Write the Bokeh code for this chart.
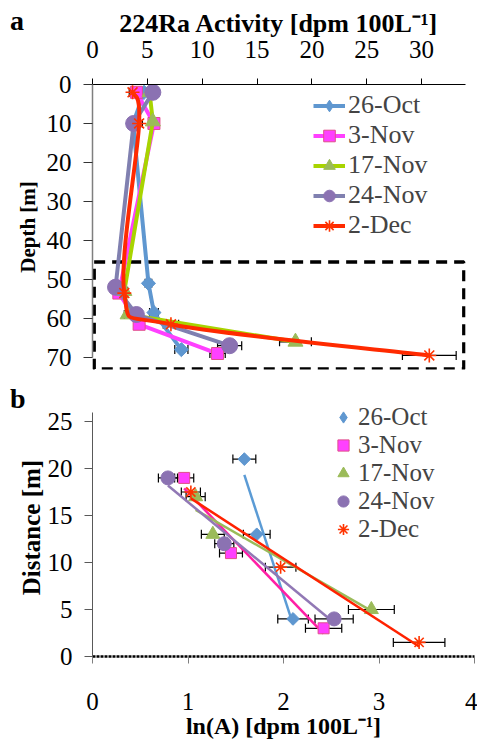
import numpy as np
from bokeh.plotting import figure
from bokeh.layouts import column
from bokeh.models import (ColumnDataSource, Whisker, TeeHead, Legend, LegendItem,
                          FixedTicker, Range1d, Div)
from bokeh.embed import file_html
from bokeh.resources import INLINE

FONT = "Liberation Serif"

series = ["26-Oct", "3-Nov", "17-Nov", "24-Nov", "2-Dec"]

# ---- Panel a: 224Ra activity [dpm 100L-1] versus depth [m]
a_act_26oct = [4.7, 3.7, 5.1, 5.6, 8.1]
a_dep_26oct = [2, 10, 51, 58.5, 68]
a_err_26oct = [0.3, 0.3, 0.3, 0.4, 0.6]

a_act_3nov = [4.0, 5.6, 2.4, 4.25, 11.4]
a_dep_3nov = [2, 10, 53.5, 61.5, 69]
a_err_3nov = [0.3, 0.3, 0.3, 0.4, 0.7]

a_act_17nov = [5.2, 5.5, 2.9, 3.2, 18.5]
a_dep_17nov = [2, 9.5, 53, 59, 66]
a_err_17nov = [0.3, 0.3, 0.3, 0.3, 1.45]

a_act_24nov = [5.5, 3.75, 2.1, 4.0, 12.5]
a_dep_24nov = [2, 10, 52, 59, 67]
a_err_24nov = [0.3, 0.3, 0.3, 0.3, 1.1]

a_act_2dec = [3.65, 4.25, 2.9, 7.15, 30.7]
a_dep_2dec = [2, 10, 53.5, 61.5, 69.5]
a_err_2dec = [0.3, 0.3, 0.3, 0.7, 2.45]

a_xticks = [0, 5, 10, 15, 20, 25, 30]
a_yticks = [0, 10, 20, 30, 40, 50, 60, 70]

# ---- Panel b: ln(A) versus distance [m]
b_lna_26oct = [1.59, 1.72, 2.10]
b_dist_26oct = [21, 13, 4]
b_err_26oct = [0.12, 0.14, 0.16]

b_lna_3nov = [0.96, 1.45, 2.42]
b_dist_3nov = [19, 11, 3]
b_err_3nov = [0.1, 0.12, 0.19]

b_lna_17nov = [1.08, 1.26, 2.92]
b_dist_17nov = [17, 13, 5]
b_err_17nov = [0.1, 0.12, 0.24]

b_lna_24nov = [0.79, 1.38, 2.53]
b_dist_24nov = [19, 12, 4]
b_err_24nov = [0.1, 0.1, 0.2]

b_lna_2dec = [1.03, 1.97, 3.42]
b_dist_2dec = [17.5, 9.5, 1.5]
b_err_2dec = [0.1, 0.16, 0.27]

b_xticks = [0, 1, 2, 3, 4]
b_yticks = [0, 5, 10, 15, 20, 25]

# dashed box marking the bottom layer in panel a
box_left, box_right, box_top, box_bottom = 0.15, 33.85, 45.5, 73.0

a_data = [
    (a_act_26oct, a_dep_26oct, a_err_26oct),
    (a_act_3nov, a_dep_3nov, a_err_3nov),
    (a_act_17nov, a_dep_17nov, a_err_17nov),
    (a_act_24nov, a_dep_24nov, a_err_24nov),
    (a_act_2dec, a_dep_2dec, a_err_2dec),
]
b_data = [
    (b_lna_26oct, b_dist_26oct, b_err_26oct),
    (b_lna_3nov, b_dist_3nov, b_err_3nov),
    (b_lna_17nov, b_dist_17nov, b_err_17nov),
    (b_lna_24nov, b_dist_24nov, b_err_24nov),
    (b_lna_2dec, b_dist_2dec, b_err_2dec),
]

# styles (legend marker may differ from the plotted one: rotated square -> diamond)
styles = [
    dict(marker="square", angle=np.pi / 4, size=10, fill="#5F97D0", line="#5F97D0",
         la="#5F97D0", lb="#5B9BD5", smooth=False, legend_marker="diamond"),
    dict(marker="square", angle=0.0, size=12, fill="#FF40FF", line="#E0508A",
         la="#FF40FF", lb="#FF1FA5", smooth=False, legend_marker=None),
    dict(marker="triangle", angle=0.0, size=15, fill="#9BBB59", line="#9BBB59",
         la="#A8D400", lb="#9BBB59", smooth=False, legend_marker=None),
    dict(marker="circle", angle=0.0, size=16, fill="#8B72B2", line="#8B72B2",
         la="#8080B0", lb="#9178B5", smooth=False, legend_marker=None),
    dict(marker="asterisk", angle=0.0, size=14, fill=None, line="#FF3300",
         la="#FF2A00", lb="#FF2200", smooth=True, legend_marker=None),
]


def smooth_segments(xs, ys):
    """Bezier control points (Catmull-Rom style, like a smoothed spreadsheet line)."""
    xs = np.asarray(xs, float)
    ys = np.asarray(ys, float)
    n = len(xs)
    out = dict(x0=[], y0=[], x1=[], y1=[], cx0=[], cy0=[], cx1=[], cy1=[])
    for i in range(n - 1):
        i0 = max(i - 1, 0)
        i3 = min(i + 2, n - 1)
        out["x0"].append(xs[i]); out["y0"].append(ys[i])
        out["x1"].append(xs[i + 1]); out["y1"].append(ys[i + 1])
        out["cx0"].append(xs[i] + (xs[i + 1] - xs[i0]) / 6.0)
        out["cy0"].append(ys[i] + (ys[i + 1] - ys[i0]) / 6.0)
        out["cx1"].append(xs[i + 1] - (xs[i3] - xs[i]) / 6.0)
        out["cy1"].append(ys[i + 1] - (ys[i3] - ys[i]) / 6.0)
    return out


def style_axis(ax, size="25px"):
    ax.major_label_text_font = FONT
    ax.major_label_text_font_size = size
    ax.major_label_text_color = "black"
    ax.axis_label_text_font = FONT
    ax.axis_label_text_font_style = "bold"
    ax.axis_label_text_color = "black"
    ax.minor_tick_line_color = None


def add_errorbars(p, base, center, err):
    src = ColumnDataSource(dict(y=base, lo=center - err, hi=center + err))
    w = Whisker(source=src, base="y", lower="lo", upper="hi", dimension="width",
                line_color="black", line_width=1.2,
                lower_head=TeeHead(size=9, line_color="black", line_width=1.2),
                upper_head=TeeHead(size=9, line_color="black", line_width=1.2))
    p.add_layout(w)


def legend_marker(p, st, main):
    """Renderer used for the legend swatch (the legend does not rotate markers)."""
    if st["legend_marker"] is None:
        return main
    return p.scatter(x=[np.nan], y=[np.nan], marker=st["legend_marker"],
                     fill_color=st["fill"], line_color=st["line"], size=st["size"])


# ================= Panel a =================
p1 = figure(frame_width=373, frame_height=285,
            x_range=Range1d(0, 34), y_range=Range1d(73.1, 0),
            x_axis_location="above",
            min_border_left=92, min_border_right=12, min_border_top=84, min_border_bottom=11,
            output_backend="svg", toolbar_location=None)
p1.outline_line_color = None
p1.grid.visible = False
p1.background_fill_color = "white"

xa = p1.xaxis[0]
style_axis(xa)
xa.ticker = FixedTicker(ticks=a_xticks)
xa.bounds = (0, 34)
xa.axis_label = "224Ra Activity [dpm 100L\u207b\u00b9]"
xa.axis_label_text_font_size = "26px"
xa.axis_line_color = "black"
xa.major_tick_line_color = "black"
xa.major_tick_in = 0
xa.major_tick_out = 6
xa.major_label_standoff = 21
xa.axis_label_standoff = 0

ya = p1.yaxis[0]
style_axis(ya)
ya.ticker = FixedTicker(ticks=a_yticks)
ya.bounds = (0, 70)
ya.axis_label = "Depth [m]"
ya.axis_label_text_font_size = "21px"
ya.axis_line_color = "#7F7F7F"
ya.axis_line_width = 1.5
ya.major_tick_line_color = "#333333"
ya.major_tick_in = 0
ya.major_tick_out = 9
ya.major_label_standoff = 12
ya.axis_label_standoff = 4

p1.quad(left=[box_left], right=[box_right], top=[box_top], bottom=[box_bottom],
        fill_color=None, line_color="black", line_width=3.5, line_dash="11 7")

leg_a = []
for name, (act, dep, err), st in zip(series, a_data, styles):
    act = np.asarray(act, float); dep = np.asarray(dep, float); err = np.asarray(err, float)
    if st["smooth"]:
        lr = p1.bezier(x0="x0", y0="y0", x1="x1", y1="y1", cx0="cx0", cy0="cy0",
                       cx1="cx1", cy1="cy1", source=ColumnDataSource(smooth_segments(act, dep)),
                       line_color=st["la"], line_width=4)
    else:
        lr = p1.line(x=act, y=dep, line_color=st["la"], line_width=4)
    add_errorbars(p1, dep, act, err)
    sc = p1.scatter(x=act, y=dep, marker=st["marker"], angle=st["angle"], size=st["size"],
                    fill_color=st["fill"], line_color=st["line"],
                    line_width=1.6 if st["marker"] == "asterisk" else 1)
    leg_a.append(LegendItem(label=name, renderers=[lr, legend_marker(p1, st, sc)]))

legend_a = Legend(items=leg_a, location=(221, 129), label_text_font=FONT,
                  label_text_font_size="26px", background_fill_alpha=0,
                  border_line_color=None, padding=0, margin=0, spacing=0,
                  label_standoff=3, glyph_width=32, glyph_height=29, label_height=26)
p1.add_layout(legend_a)

# ================= Panel b =================
p2 = figure(frame_width=382, frame_height=258,
            x_range=Range1d(0, 4), y_range=Range1d(0, 27.45),
            min_border_left=88, min_border_right=7, min_border_top=18, min_border_bottom=84,
            output_backend="svg", toolbar_location=None)
p2.outline_line_color = None
p2.grid.visible = False
p2.background_fill_color = "white"

xb = p2.xaxis[0]
style_axis(xb)
xb.ticker = FixedTicker(ticks=b_xticks)
xb.axis_label = "ln(A) [dpm 100L\u207b\u00b9]"
xb.axis_label_text_font_size = "24px"
xb.axis_line_color = "black"
xb.axis_line_width = 2.5
xb.axis_line_dash = "3 1"
xb.major_tick_line_color = "#7F7F7F"
xb.major_tick_in = 0
xb.major_tick_out = 7
xb.major_label_standoff = 29
xb.axis_label_standoff = 0

yb = p2.yaxis[0]
style_axis(yb)
yb.ticker = FixedTicker(ticks=b_yticks)
yb.bounds = (0, 26)
yb.axis_label = "Distance [m]"
yb.axis_label_text_font_size = "25px"
yb.axis_line_color = "#595959"
yb.major_tick_line_color = "#595959"
yb.major_tick_in = 0
yb.major_tick_out = 8
yb.major_label_standoff = 12
yb.axis_label_standoff = 0

leg_b = []
for name, (lna, dist, err), st in zip(series, b_data, styles):
    lna = np.asarray(lna, float); dist = np.asarray(dist, float); err = np.asarray(err, float)
    slope, icpt = np.polyfit(lna, dist, 1)
    xs = np.array([lna.min(), lna.max()])
    p2.line(x=xs, y=slope * xs + icpt, line_color=st["lb"], line_width=2.5)
    add_errorbars(p2, dist, lna, err)
    sc = p2.scatter(x=lna, y=dist, marker=st["marker"], angle=st["angle"],
                    size=st["size"] - 2 if st["marker"] == "circle" else st["size"] - 1,
                    fill_color=st["fill"], line_color=st["line"],
                    line_width=1.6 if st["marker"] == "asterisk" else 1)
    leg_b.append(LegendItem(label=name, renderers=[legend_marker(p2, st, sc)]))

legend_b = Legend(items=leg_b, location=(236, 113), label_text_font=FONT,
                  label_text_font_size="25px", background_fill_alpha=0,
                  border_line_color=None, padding=0, margin=0, spacing=0,
                  label_standoff=0, glyph_width=30, glyph_height=28, label_height=26)
p2.add_layout(legend_b)

# panel letters
letter_style = {"position": "absolute", "font-family": FONT, "font-size": "28px",
                "font-weight": "bold", "color": "black", "line-height": "28px",
                "margin": "0", "padding": "0"}
div_a = Div(text="a", styles=dict(letter_style, left="10px", top="7px"))
div_b = Div(text="b", styles=dict(letter_style, left="10px", top="385px"))

layout = column(p1, p2, div_a, div_b, spacing=0)
open("out.html", "w").write(file_html(layout, INLINE))
